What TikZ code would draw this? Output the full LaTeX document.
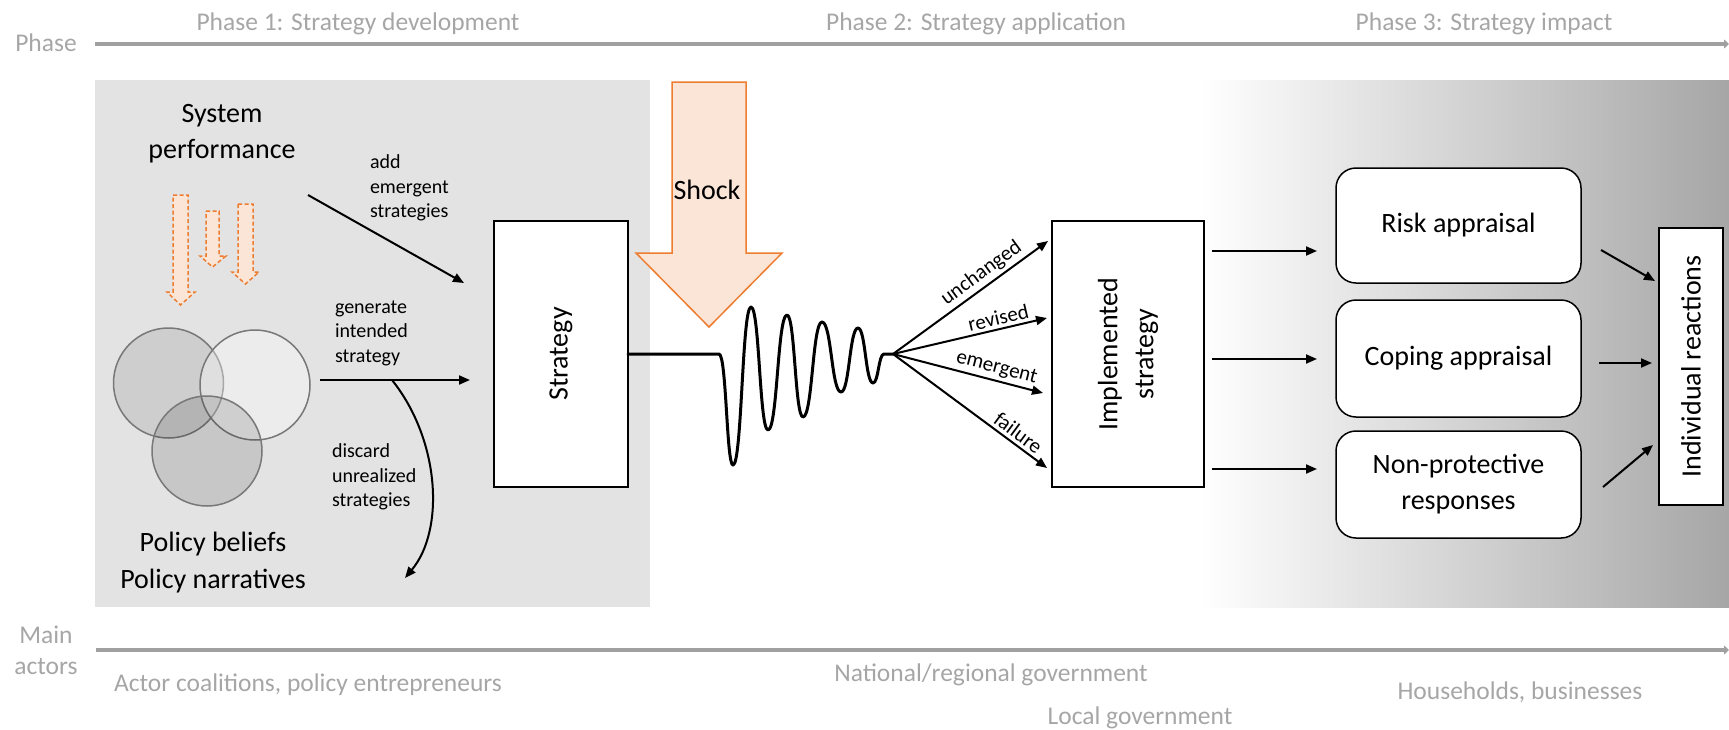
\documentclass[tikz,border=0pt]{standalone}
\usepackage{fontspec}
\setmainfont{Carlito}
\usetikzlibrary{arrows.meta,shapes.geometric}
\definecolor{boxgray}{RGB}{227,227,227}
\definecolor{txtgray}{RGB}{166,166,166}
\definecolor{linegray}{RGB}{160,160,160}
\definecolor{circgray}{RGB}{120,120,120}
\definecolor{orstroke}{RGB}{237,125,49}
\definecolor{orfill}{RGB}{251,229,214}
\definecolor{graddark}{RGB}{166,166,166}
\newcommand{\fsz}[2]{\fontsize{#1}{#2}\selectfont}
\begin{document}
\begin{tikzpicture}[x=1pt,y=-1pt,
  every node/.style={inner sep=0pt,outer sep=0pt},
  main/.style={font=\fsz{28}{36},align=center,text=black},
  lbl/.style={font=\fsz{20}{24.5},align=left,text=black},
  fanlbl/.style={font=\fsz{21}{24},text=black},
  graytxt/.style={font=\fsz{25.5}{30},text=txtgray,anchor=base},
  axisline/.style={draw=linegray,line width=4pt,-{Triangle[length=5pt,width=9pt]}},
  blkarrow/.style={draw=black,line width=2pt,-{Triangle[length=11pt,width=9pt]}},
  rectbox/.style={draw=black,line width=1.5pt,fill=white},
  rbox/.style={draw=black,line width=1.5pt,fill=white,rounded corners=20pt},
  dasharrow/.style={draw=orstroke,fill=orfill,line width=1.5pt,dash pattern=on 4pt off 2.5pt},
  shockarrow/.style={draw=orstroke,fill=orfill,line width=1.5pt},
  venn/.style={circle,minimum size=110pt,draw=circgray,line width=1.5pt}
]
\useasboundingbox (0,0) rectangle (1729,729);

% backgrounds
\fill[boxgray] (95,80) rectangle (650,607);
\shade[left color=white,right color=graddark] (1200,80) rectangle (1729,607);

% phase axis
\coordinate (topL) at (95,44);
\coordinate (topR) at (1729,44);
\draw[axisline] (topL) -- (topR);
\node[graytxt] (phaselbl) at (46,51) {Phase};
\node[graytxt] (ph1) at (358,30) {Phase 1: Strategy development};
\node[graytxt] (ph2) at (976,30) {Phase 2: Strategy application};
\node[graytxt] (ph3) at (1484,30) {Phase 3: Strategy impact};

% actors axis
\coordinate (botL) at (96,650);
\coordinate (botR) at (1729,650);
\draw[axisline] (botL) -- (botR);
\node[graytxt] (mainlbl) at (46,643) {Main};
\node[graytxt] (actorslbl) at (46,674) {actors};
\node[graytxt] (act1) at (308,691) {Actor coalitions, policy entrepreneurs};
\node[graytxt] (act2) at (991,681) {National/regional government};
\node[graytxt] (act3) at (1140,724) {Local government};
\node[graytxt] (act4) at (1520,699) {Households, businesses};

% Phase 1 content
\node[main] (sysperf) at (222,134) {System\\performance};
\draw[dasharrow] (173,195) -- (188,195) -- (188,292) -- (195,292) -- (180.5,305) -- (167,292) -- (173,292) -- cycle;
\draw[dasharrow] (206,211) -- (219,211) -- (219,256) -- (226,256) -- (212.5,267) -- (200,256) -- (206,256) -- cycle;
\draw[dasharrow] (238,204) -- (253,204) -- (253,272) -- (259,272) -- (245.5,284) -- (232,272) -- (238,272) -- cycle;

\node[venn,fill=black,fill opacity=0.09] (c1) at (168.5,383) {};
\node[venn,fill=white,fill opacity=0.35] (c2) at (255,385) {};
\node[venn,fill=black,fill opacity=0.12] (c3) at (207,451) {};

\node[main,font=\fsz{28}{37}] (beliefs) at (213,563) {Policy beliefs\\Policy narratives};

\node[rectbox,minimum width=134pt,minimum height=266pt] (strat) at (561,354) {};
\node[main,rotate=90] (strattxt) at (strat.center) {Strategy};

\coordinate (addS) at (308,195);
\coordinate (addE) at (464,283);
\draw[blkarrow] (addS) -- (addE);
\node[lbl,anchor=west] (addlbl) at (370,188) {add\\emergent\\strategies};

\coordinate (genS) at (320,380);
\coordinate (genE) at (470,380);
\draw[blkarrow] (genS) -- (genE);
\node[lbl,anchor=west] (genlbl) at (335,333) {generate\\intended\\strategy};

\coordinate (disS) at (392,380);
\coordinate (disE) at (405,578);
\draw[blkarrow] (disS) .. controls (440,440) and (445,530) .. (disE);
\node[lbl,anchor=west] (dislbl) at (332,477) {discard\\unrealized\\strategies};

% Shock
\draw[shockarrow] (672,82) -- (746,82) -- (746,253) -- (782,253) -- (709,327) -- (636,253) -- (672,253) -- cycle;
\node[main] (shock) at (707,190) {Shock};

% wave
\coordinate (fan) at (893,354);
\draw[line width=3pt,line join=round,line cap=round]
  (strat.east) -- (719,354)
  .. controls (726.5,354) and (726.5,465) .. (733,465)
  .. controls (742,465) and (742,307) .. (751,307)
  .. controls (759.5,307) and (759.5,430) .. (768,430)
  .. controls (777.5,430) and (777.5,315) .. (787,315)
  .. controls (795,315) and (795,417) .. (803,417)
  .. controls (812.5,417) and (812.5,322) .. (822,322)
  .. controls (831.5,322) and (831.5,392) .. (841,392)
  .. controls (849.5,392) and (849.5,328) .. (858,328)
  .. controls (865.5,328) and (865.5,383) .. (873,383)
  .. controls (878.5,383) and (878.5,354) .. (884,354)
  -- (fan);

% Implemented strategy
\node[rectbox,minimum width=152pt,minimum height=266pt] (impl) at (1128,354) {};
\node[main,rotate=90] (impltxt) at (impl.center) {Implemented\\strategy};

\coordinate (fe1) at (1048,241);
\coordinate (fe2) at (1047,318);
\coordinate (fe3) at (1043,393);
\coordinate (fe4) at (1047,468);
\draw[blkarrow] (fan) -- node[fanlbl,sloped,above=4pt,pos=0.62] (l1) {unchanged} (fe1);
\draw[blkarrow] (fan) -- node[fanlbl,sloped,above=4pt,pos=0.7] (l2) {revised} (fe2);
\draw[blkarrow] (fan) -- node[fanlbl,sloped,above=4pt,pos=0.67] (l3) {emergent} (fe3);
\draw[blkarrow] (fan) -- node[fanlbl,sloped,above=4pt,pos=0.77] (l4) {failure} (fe4);

% Phase 3 boxes
\node[rbox,minimum width=245pt,minimum height=115pt] (risk) at (1458.5,225.5) {};
\node[main] (risktxt) at (risk.center) {Risk appraisal};
\node[rbox,minimum width=245pt,minimum height=117pt] (coping) at (1458.5,358.5) {};
\node[main] (copingtxt) at (coping.center) {Coping appraisal};
\node[rbox,minimum width=245pt,minimum height=107pt] (nonprot) at (1458.5,484.5) {};
\node[main] (nonprottxt) at (nonprot.center) {Non-protective\\responses};

\node[rectbox,minimum width=64pt,minimum height=277pt] (indiv) at (1691,366.5) {};
\node[main,rotate=90] (indivtxt) at (indiv.center) {Individual reactions};

\coordinate (a1s) at (1212,251); \coordinate (a1e) at (1317,251);
\coordinate (a2s) at (1212,359); \coordinate (a2e) at (1317,359);
\coordinate (a3s) at (1212,469); \coordinate (a3e) at (1317,469);
\draw[blkarrow] (a1s) -- (a1e);
\draw[blkarrow] (a2s) -- (a2e);
\draw[blkarrow] (a3s) -- (a3e);

\coordinate (b1s) at (1601,250); \coordinate (b1e) at (1655,281);
\coordinate (b2s) at (1599,363); \coordinate (b2e) at (1652,363);
\coordinate (b3s) at (1603,487); \coordinate (b3e) at (1653,445);
\draw[blkarrow] (b1s) -- (b1e);
\draw[blkarrow] (b2s) -- (b2e);
\draw[blkarrow] (b3s) -- (b3e);
\end{tikzpicture}
\end{document}
